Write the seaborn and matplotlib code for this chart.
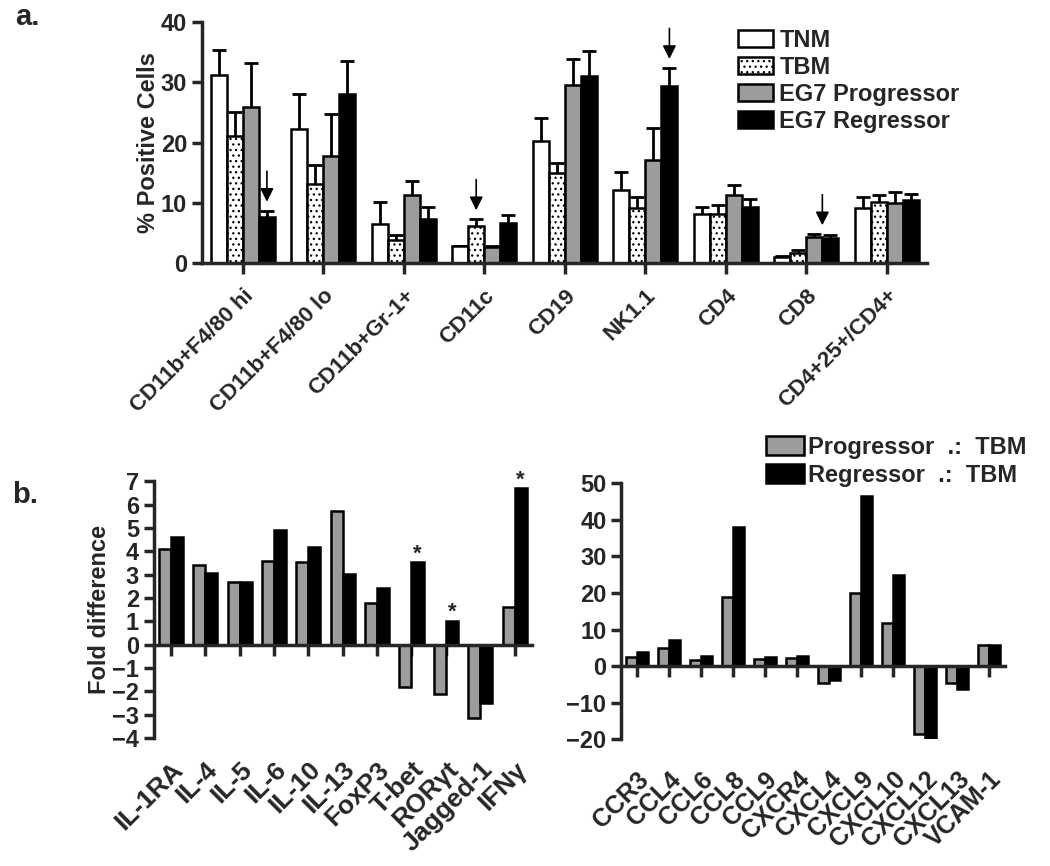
import matplotlib
matplotlib.use("Agg")
import matplotlib.pyplot as plt
import matplotlib.patches as mpatches
import numpy as np
import pandas as pd
import seaborn as sns

# panel a: immune cell populations
cells = ["CD11b+F4/80 hi", "CD11b+F4/80 lo", "CD11b+Gr-1+", "CD11c", "CD19",
         "NK1.1", "CD4", "CD8", "CD4+25+/CD4+"]
groups = ["TNM", "TBM", "EG7 Progressor", "EG7 Regressor"]
tnm = [31.2, 22.3, 6.5, 2.9, 20.2, 12.1, 8.2, 1.0, 9.1]
tbm = [21.0, 13.1, 3.9, 6.2, 14.9, 9.2, 8.1, 1.7, 10.2]
prog = [25.9, 17.7, 11.3, 2.7, 29.6, 17.1, 11.3, 4.3, 10.0]
regr = [7.6, 28.0, 7.3, 6.7, 31.1, 29.4, 9.3, 4.1, 10.5]
tnm_err = [4.1, 5.8, 3.7, 0.0, 3.9, 3.0, 1.1, 0.2, 1.9]
tbm_err = [4.1, 3.2, 0.8, 1.1, 1.7, 1.8, 1.5, 0.4, 1.1]
prog_err = [7.3, 7.0, 2.3, 0.2, 4.2, 5.3, 1.6, 0.5, 1.8]
regr_err = [1.1, 5.5, 2.0, 1.3, 4.1, 3.0, 1.4, 0.5, 1.0]
# (cell index, group index, x shift in bar widths)
arrows = [(0, 3, 0.0), (3, 1, 0.0), (5, 3, 0.0), (7, 2, 0.5)]

# panel b left: cytokines / transcription factors
genes = ["IL-1RA", "IL-4", "IL-5", "IL-6", "IL-10", "IL-13", "FoxP3", "T-bet",
         "RORγt", "Jagged-1", "IFNγ"]
gene_prog = [4.09, 3.40, 2.70, 3.60, 3.54, 5.74, 1.79, -1.8, -2.1, -3.15, 1.6]
gene_regr = [4.62, 3.06, 2.67, 4.91, 4.20, 3.01, 2.41, 3.54, 1.03, -2.5, 6.71]
gene_star = [7, 8, 10]

# panel b right: chemokines
chemo = ["CCR3", "CCL4", "CCL6", "CCL8", "CCL9", "CXCR4", "CXCL4", "CXCL9",
         "CXCL10", "CXCL12", "CXCL13", "VCAM-1"]
chemo_prog = [2.5, 5.0, 1.6, 19.0, 2.0, 2.2, -4.5, 19.9, 11.9, -18.6, -4.5, 5.7]
chemo_regr = [3.9, 7.1, 2.7, 38.1, 2.4, 2.7, -3.8, 46.5, 25.0, -19.9, -6.2, 5.7]
pair_labels = ["Progressor  .:  TBM", "Regressor  .:  TBM"]

GRAY = "#9c9c9c"
sns.set_style("ticks")
plt.rcParams["font.family"] = ["Liberation Sans", "DejaVu Sans"]
plt.rcParams["font.weight"] = "bold"
plt.rcParams["hatch.linewidth"] = 0.9
plt.rcParams["hatch.color"] = "#444444"

fig = plt.figure(figsize=(10.5, 8.66), dpi=100)
W, H = 1050, 866


def axes_px(left, top, right, bottom):
    return fig.add_axes([left / W, 1 - bottom / H, (right - left) / W, (bottom - top) / H])


def style_axes(ax):
    for side in ["top", "right"]:
        ax.spines[side].set_visible(False)
    for side in ["left", "bottom"]:
        ax.spines[side].set_linewidth(2.5)
    ax.tick_params(axis="both", width=2.5, length=7, labelsize=17)
    for lab in ax.get_yticklabels():
        lab.set_fontweight("bold")


# ---------- panel a ----------
ax = axes_px(201.7, 22, 927, 263)
df_a = pd.DataFrame({
    "cell": np.tile(cells, 4),
    "group": np.repeat(groups, len(cells)),
    "pct": tnm + tbm + prog + regr,
})
errs = [tnm_err, tbm_err, prog_err, regr_err]
pal = {"TNM": "white", "TBM": "white", "EG7 Progressor": GRAY, "EG7 Regressor": "black"}
sns.barplot(data=df_a, x="cell", y="pct", hue="group", hue_order=groups, order=cells,
            palette=pal, edgecolor="black", linewidth=1.8, width=0.8, errorbar=None,
            legend=False, ax=ax)
bar_sets = list(ax.containers)
for bar in bar_sets[1]:
    bar.set_hatch("...")
for gi, cont in enumerate(bar_sets):
    for b in cont:
        b.set_zorder(2)
    xs = [b.get_x() + b.get_width() / 2 for b in cont]
    ys = [b.get_height() for b in cont]
    # symmetric bars drawn behind the columns, so only the upper half shows
    ax.errorbar(xs, ys, yerr=errs[gi], fmt="none", ecolor="black",
                elinewidth=2, capsize=5, capthick=2, zorder=1)
for ci, gi, shift in arrows:
    b = bar_sets[gi][ci]
    x = b.get_x() + b.get_width() * (0.5 + shift)
    top = b.get_height() + errs[gi][ci]
    ax.annotate("", xy=(x, top + 1.0), xytext=(x, top + 7.0),
                arrowprops=dict(arrowstyle="-|>", color="black", lw=1.2, mutation_scale=20))
ax.set_ylim(0, 40)
ax.set_xlim(-0.51, 8.5)
ax.set_yticks([0, 10, 20, 30, 40])
style_axes(ax)
ax.set_xlabel("")
ax.set_ylabel("% Positive Cells", fontsize=17, fontweight="bold")
ax.yaxis.set_label_coords(-0.058, 0.5)
ax.tick_params(axis="x", length=8, pad=8)
ax.set_xticks(range(len(cells)), labels=cells, rotation=45, ha="right",
              rotation_mode="anchor", fontsize=16, fontweight="bold")
handles = [mpatches.Patch(facecolor=pal[g], edgecolor="black", linewidth=1.8,
                          hatch="..." if g == "TBM" else None, label=g) for g in groups]
ax.legend(handles=handles, loc="upper left", bbox_to_anchor=(738 / W, 1 - 29 / H),
          bbox_transform=fig.transFigure, frameon=False, borderpad=0,
          borderaxespad=0, handlelength=1.5, handleheight=0.75, handletextpad=0.25,
          labelspacing=0.17, prop={"weight": "bold", "size": 17})


def pair_panel(ax, names, pv, rv, ylim, yticks, pad, lsize):
    df = pd.DataFrame({
        "name": names * 2,
        "cmp": np.repeat(pair_labels, len(names)),
        "fold": pv + rv,
    })
    sns.barplot(data=df, x="name", y="fold", hue="cmp", order=names, hue_order=pair_labels,
                palette=[GRAY, "black"], edgecolor="black", linewidth=1.8, width=0.7,
                errorbar=None, legend=False, ax=ax)
    ax.set_ylim(*ylim)
    ax.set_xlim(-0.5, len(names) - 0.5)
    ax.set_yticks(yticks)
    style_axes(ax)
    ax.spines["bottom"].set_position(("data", 0))
    ax.tick_params(axis="x", length=8, labelbottom=False)
    ax.set_xlabel("")
    ax.set_ylabel("")
    sec = ax.secondary_xaxis("bottom")
    sec.spines["bottom"].set_visible(False)
    sec.tick_params(axis="x", length=0, pad=pad)
    sec.set_xticks(range(len(names)), labels=names, rotation=45, ha="right",
                   rotation_mode="anchor", fontsize=lsize, fontweight="bold")
    return ax


# ---------- panel b left ----------
axl = axes_px(153.7, 481.4, 531.8, 738)
pair_panel(axl, genes, gene_prog, gene_regr, (-4, 7), list(range(-4, 8)), 14, 19)
axl.set_ylabel("Fold difference", fontsize=17, fontweight="bold")
axl.yaxis.set_label_coords(-0.112, 0.5)
for i in gene_star:
    b = axl.containers[1][i]
    axl.text(b.get_x() + b.get_width() / 2, b.get_height() - 0.1, "*", ha="center",
             va="bottom", fontsize=16, fontweight="bold")

# ---------- panel b right ----------
axr = axes_px(621, 483.3, 1005, 739.3)
pair_panel(axr, chemo, chemo_prog, chemo_regr, (-20, 50), list(range(-20, 51, 10)), 20, 18)
hb = [mpatches.Patch(facecolor=c, edgecolor="black", linewidth=1.8, label=l)
      for c, l in zip([GRAY, "black"], pair_labels)]
axr.legend(handles=hb, loc="upper left", bbox_to_anchor=(766 / W, 1 - 436 / H),
           bbox_transform=fig.transFigure, frameon=False, borderpad=0, borderaxespad=0,
           handlelength=1.6, handleheight=0.85, handletextpad=0.2, labelspacing=0.2,
           prop={"weight": "bold", "size": 17})

fig.text(15 / W, 1 - 25 / H, "a.", fontsize=21, fontweight="bold", va="baseline")
fig.text(12 / W, 1 - 503 / H, "b.", fontsize=21, fontweight="bold", va="baseline")

fig.savefig("out.png", dpi=100)
